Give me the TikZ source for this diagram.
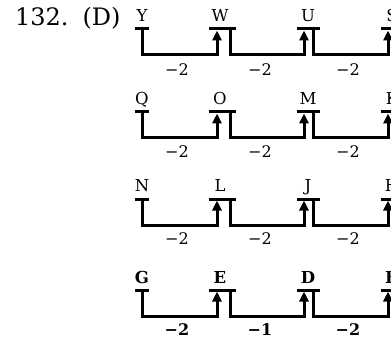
\documentclass[tikz,border=0pt]{standalone}
\usepackage{fontspec}
\setmainfont{DejaVu Serif}
\usetikzlibrary{arrows.meta}
\newcommand{\lettersize}{\fontsize{16.5pt}{16.5pt}\selectfont}
\newcommand{\diffsize}{\fontsize{16pt}{16pt}\selectfont}
\begin{document}
\begin{tikzpicture}[x=1pt,y=-1pt,
  conn/.style={line width=3pt, line join=miter, -{Triangle[length=10pt,width=9pt]}},
  bar/.style={line width=3pt},
  letter/.style={anchor=base, inner sep=0pt, font=\lettersize},
  diff/.style={inner sep=0pt, font=\diffsize},
  plainrow/.style={},
  boldrow/.style={execute at begin node=\bfseries},
]
\useasboundingbox (0,0) rectangle (391,342);

% question number and answer
\node[anchor=base west, inner sep=0pt, font=\fontsize{24pt}{24pt}\selectfont] (num) at (15,26) {132.\hspace{14pt}(D)};

% one row per letter series: bar height, label height, letters, differences, style
\foreach \r/\yb/\yl/\la/\lb/\lc/\ld/\da/\db/\dc/\st in {
  1/29/70/Y/W/U/S/2/2/2/plainrow,
  2/112/152/Q/O/M/K/2/2/2/plainrow,
  3/199/239/N/L/J/H/2/2/2/plainrow,
  4/290/330/G/E/D/B/2/1/2/boldrow}{
  % letters
  \node[letter,\st] (t\r-1) at (142,\yb-7) {\la};
  \node[letter,\st] (t\r-2) at (220,\yb-7) {\lb};
  \node[letter,\st] (t\r-3) at (308,\yb-7) {\lc};
  \node[letter,\st] (t\r-4) at (392,\yb-7) {\ld};
  % start points of the steps and arrow tips under the bars
  \coordinate (s\r-1) at (142,\yb);
  \coordinate (s\r-2) at (230,\yb);
  \coordinate (s\r-3) at (313,\yb);
  \coordinate (a\r-2) at (217,\yb+1.5);
  \coordinate (a\r-3) at (304,\yb+1.5);
  \coordinate (a\r-4) at (388,\yb+1.5);
  % bars under the letters
  \draw[bar] ([xshift=-7pt]s\r-1) -- ([xshift=7pt]s\r-1);
  \draw[bar] (209,\yb) -- ([xshift=6pt]s\r-2);
  \draw[bar] (297,\yb) -- ([xshift=7pt]s\r-3);
  \draw[bar] (381,\yb) -- (398,\yb);
  % steps
  \draw[conn] (s\r-1) -- ++(0,26) -| (a\r-2);
  \draw[conn] (s\r-2) -- ++(0,26) -| (a\r-3);
  \draw[conn] (s\r-3) -- ++(0,26) -| (a\r-4);
  % differences
  \node[diff,\st] (d\r-1) at (177,\yl) {−\da};
  \node[diff,\st] (d\r-2) at (260,\yl) {−\db};
  \node[diff,\st] (d\r-3) at (348,\yl) {−\dc};
}
\end{tikzpicture}
\end{document}
